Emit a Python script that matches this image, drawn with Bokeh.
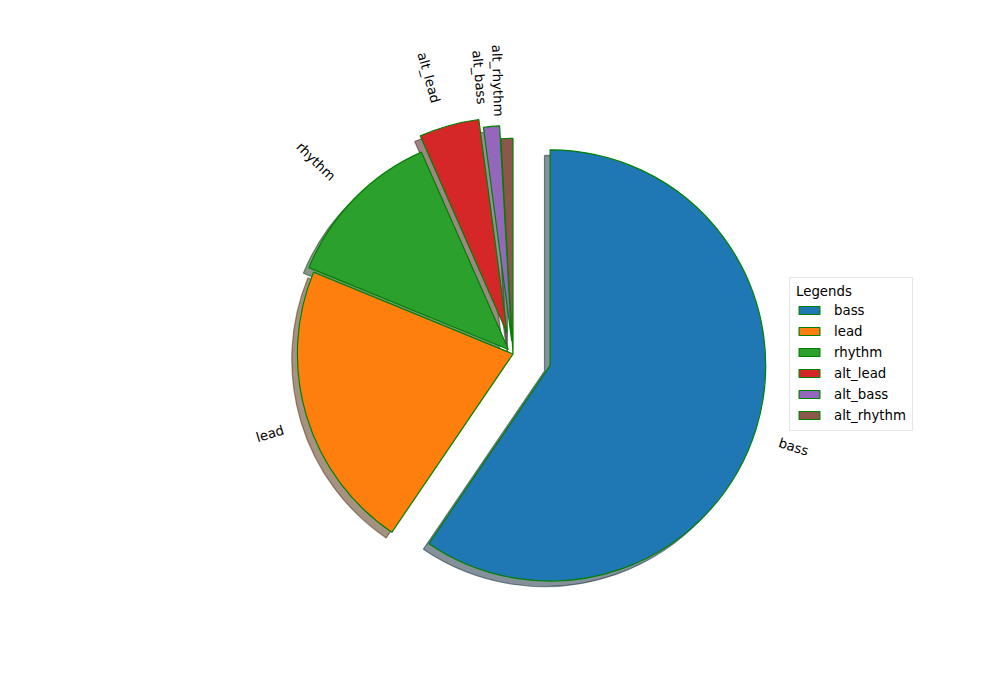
import math
from bokeh.plotting import figure
from bokeh.models import Range1d, ColumnDataSource, Legend, LegendItem
from bokeh.core.properties import value
from bokeh.embed import file_html
from bokeh.resources import INLINE

# ---- data ----
labels = ["bass", "lead", "rhythm", "alt_lead", "alt_bass", "alt_rhythm"]
values = [59.5, 21.7, 12.2, 4.5, 1.2, 0.9]
explode = [0.18, 0.0, 0.03, 0.1, 0.06, 0.0]
colors = ["#1f77b4", "#ff7f0e", "#2ca02c", "#d62728", "#9467bd", "#8c564b"]

# ---- geometry (matplotlib-like pie) ----
PX = 215.6          # pixels per data unit (radius = 1)
CX, CY = 512.5, 353.5
W, H = 1000, 700
FONT = "DejaVu Sans"
FS = 13.33
TXT_H = 15.5

# DejaVu Sans advance widths (em)
CW = {"a": .613, "b": .635, "d": .635, "e": .615, "h": .634, "l": .278,
      "m": .974, "r": .411, "s": .521, "t": .392, "y": .592, "_": .5}

def text_w(s):
    return sum(CW.get(c, .6) for c in s) * FS

def shade(hexc):
    r, g, b = (int(hexc[i:i + 2], 16) for i in (1, 3, 5))
    return "#%02x%02x%02x" % (int(r * .3), int(g * .3), int(b * .3))

p = figure(width=W, height=H, x_range=Range1d(-CX / PX, (W - CX) / PX),
           y_range=Range1d(-(H - CY) / PX, CY / PX),
           output_backend="svg", toolbar_location=None,
           x_axis_location=None, y_axis_location=None, min_border=0)
p.grid.visible = False
p.outline_line_color = None

total = sum(values)
theta = 90.0
wx, wy, ws, we = [], [], [], []
tx, ty, tang = [], [], []
for v, e, lab in zip(values, explode, labels):
    t2 = theta - 360.0 * v / total
    tm = math.radians((theta + t2) / 2)
    cx, cy = e * math.cos(tm), e * math.sin(tm)
    wx.append(cx); wy.append(cy)
    ws.append(math.radians(t2)); we.append(math.radians(theta))
    xt, yt = cx + 1.1 * math.cos(tm), cy + 1.1 * math.sin(tm)
    rot = math.degrees(tm) + (0 if xt > 0 else 180)
    a = math.radians(rot)
    w = text_w(lab)
    bw = w * abs(math.cos(a)) + TXT_H * abs(math.sin(a))
    bh = w * abs(math.sin(a)) + TXT_H * abs(math.cos(a))
    xc = xt + (bw / 2 if xt > 0 else -bw / 2) / PX
    yc = yt + (bh / 2 if yt > 0 else -bh / 2) / PX
    tx.append(xc); ty.append(yc); tang.append(a)
    theta = t2

# shadows
for i in range(len(values)):
    sc = shade(colors[i])
    p.wedge(x=wx[i] - 0.026, y=wy[i] - 0.026, radius=1.0,
            start_angle=ws[i], end_angle=we[i], direction="anticlock",
            fill_color=sc, fill_alpha=0.5, line_color=sc, line_alpha=0.5,
            line_width=1.2)

renderers = []
for i in range(len(values)):
    r = p.wedge(x=wx[i], y=wy[i], radius=1.0,
                start_angle=ws[i], end_angle=we[i], direction="anticlock",
                fill_color=colors[i], line_color="green", line_width=1.2)
    renderers.append(r)

src = ColumnDataSource(dict(x=tx, y=ty, text=labels, angle=tang))
p.text(x="x", y="y", text="text", angle="angle", source=src,
       text_align="center", text_baseline="middle",
       text_font=value(FONT), text_font_size="13.33px", text_color="black")

legend = Legend(items=[LegendItem(label=l, renderers=[r]) for l, r in zip(labels, renderers)],
                location=(789, 269), title="Legends",
                title_text_font=FONT, title_text_font_size="13.33px",
                title_text_font_style="normal", title_text_color="black",
                title_text_align="center", title_standoff=2,
                label_text_font=FONT, label_text_font_size="13.33px",
                label_text_color="black",
                glyph_width=26, glyph_height=10, label_height=18,
                label_standoff=12, spacing=3, padding=6, margin=0,
                border_line_color="#cccccc", background_fill_alpha=0.8)
p.add_layout(legend, "center")

open("out.html", "w").write(file_html(p, INLINE))
